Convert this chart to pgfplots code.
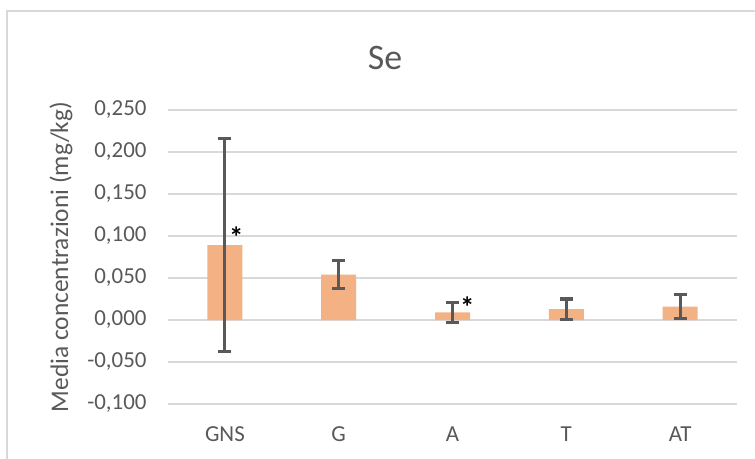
\documentclass[border=0pt]{standalone}
\usepackage{pgfplots}
\pgfplotsset{compat=1.18}
\usepackage{fontspec}
\setmainfont{Carlito}
\definecolor{txt}{HTML}{595959}
\definecolor{grid}{HTML}{D9D9D9}
\definecolor{bar}{HTML}{F4B183}
\definecolor{frame}{HTML}{D9D9D9}
\begin{document}
\begin{tikzpicture}
\path[use as bounding box] (-168bp,-55bp) rectangle (587bp,404bp);
\draw[frame, line width=1.5bp] (-161bp,-70bp) -- (-161bp,393bp) -- (620bp,393bp);
\begin{axis}[
  at={(0,0)}, anchor=south west,
  scale only axis,
  width=569bp, height=294bp,
  xmin=-0.5, xmax=4.5,
  ymin=-0.1, ymax=0.25,
  axis line style={draw=none},
  xtick style={draw=none}, ytick style={draw=none},
  major tick length=0pt,
  xtick={0,1,2,3,4},
  xticklabels={GNS,G,A,T,AT},
  ytick={-0.1,-0.05,0,0.05,0.1,0.15,0.2,0.25},
  xmajorgrids=false,
  ymajorgrids=true,
  y grid style={grid, line width=2bp},
  /pgf/number format/.cd, fixed, fixed zerofill, precision=3, use comma, assume math mode=true,
  /pgfplots/.cd,
  yticklabel style={font=\fontsize{23}{27}\selectfont, text=txt, xshift=-18bp},
  xticklabel style={font=\fontsize{23}{27}\selectfont, text=txt, yshift=-19bp},
  ybar, bar width=35bp,
  clip=false,
]
\addplot[fill=bar, draw=none,
  error bars/.cd, y dir=both, y explicit,
  error bar style={line width=3bp, draw=txt},
  error mark options={rotate=90, mark size=6.5bp, line width=3bp, draw=txt}]
  table[x=x, y=y, y error=e] {
x y e
0 0.089 0.127
1 0.054 0.017
2 0.009 0.012
3 0.013 0.012
4 0.016 0.014
};
\node[font=\fontsize{29}{33}\selectfont\bfseries] at (axis cs:0.1,0.099) {*};
\node[font=\fontsize{29}{33}\selectfont\bfseries] at (axis cs:2.13,0.015) {*};
\end{axis}
\node[font=\fontsize{36}{42}\selectfont, text=txt] at (217bp,346bp) {Se};
\node[rotate=90, font=\fontsize{25.5}{30}\selectfont, text=txt] at (-107bp,147bp) {Media concentrazioni (mg/kg)};
\end{tikzpicture}
\end{document}
